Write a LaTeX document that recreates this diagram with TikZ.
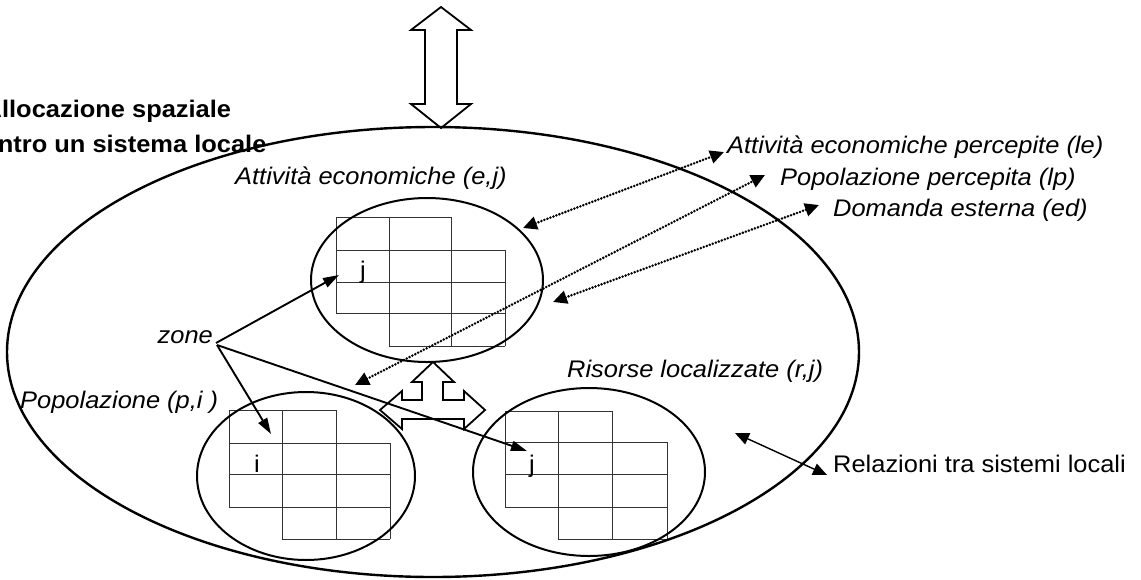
\documentclass[tikz,border=0pt]{standalone}
\usepackage{fontspec}
\setmainfont{Liberation Sans}[FakeStretch=1.06]
\usetikzlibrary{arrows.meta,shapes.geometric}
\newcommand\cellgrid[9]{%
  \draw[gridline] (#1,#5) -- (#3,#5);
  \draw[gridline] (#1,#6) -- (#4,#6);
  \draw[gridline] (#1,#7) -- (#4,#7);
  \draw[gridline] (#1,#8) -- (#4,#8);
  \draw[gridline] (#2,#9) -- (#4,#9);
  \draw[gridline] (#1,#5) -- (#1,#8);
  \draw[gridline] (#2,#5) -- (#2,#9);
  \draw[gridline] (#3,#5) -- (#3,#9);
  \draw[gridline] (#4,#6) -- (#4,#9);
}
\tikzset{
  gridline/.style={line width=1pt, black!80},
  bigell/.style={draw, ellipse, line width=2.4pt, inner sep=0pt},
  smallell/.style={draw, ellipse, line width=2pt, inner sep=0pt},
  blockarrow/.style={line width=1.8pt, line join=miter},
  zonearrow/.style={line width=1.9pt, -{Triangle[length=16pt,width=10pt]}},
  dotarrow/.style={line width=2.8pt, line cap=round, dash pattern=on 0pt off 3.2pt,
    {Triangle[length=14pt,width=13pt]}-{Triangle[length=14pt,width=13pt]}},
  relarrow/.style={line width=1.4pt, {Triangle[length=14pt,width=12pt]}-{Triangle[length=14pt,width=12pt]}},
  lbl/.style={inner sep=0pt, font=\fontsize{24}{28}\selectfont\itshape, anchor=base west},
  uplbl/.style={inner sep=0pt, font=\fontsize{24}{28}\selectfont, anchor=base},
  ttl/.style={inner sep=0pt, font=\fontsize{24}{28}\selectfont\bfseries, anchor=base west},
}
\begin{document}
\begin{tikzpicture}[x=1pt,y=-1pt]
\fill[white] (0,0) rectangle (1141,579);
\useasboundingbox (0,0) rectangle (1141,579);

% grids of zones
\cellgrid{336}{389}{451}{505}{217}{250}{282}{313}{346}
\cellgrid{229}{282}{336}{390}{410}{443}{474}{507}{539}
\cellgrid{505}{558}{612}{667}{411}{442}{474}{507}{539}

% ellipses
\node[bigell, minimum width=852pt, minimum height=450pt] (sys) at (433,352) {};
\node[smallell, minimum width=232pt, minimum height=164pt] (econ) at (427,280) {};
\node[smallell, minimum width=218pt, minimum height=168pt] (pop) at (306,476) {};
\node[smallell, minimum width=232pt, minimum height=168pt] (ris) at (589,472) {};

% top double block arrow
\draw[blockarrow] (441,7) -- (471,30) -- (457,30) -- (457,104) -- (471,104) -- (441,128)
  -- (411,104) -- (425,104) -- (425,30) -- (411,30) -- cycle;

% central three-way block arrow
\draw[blockarrow] (433,362) -- (454,382) -- (443,382) -- (443,400) -- (464,400) -- (464,391)
  -- (485,410) -- (464,429) -- (464,419) -- (402,419) -- (402,429) -- (380,410)
  -- (402,391) -- (402,400) -- (422,400) -- (422,382) -- (412,382) -- cycle;

% labels
\node[ttl] (t1) at (-16.5,117) {Allocazione spaziale};
\node[ttl] (t2) at (-16.5,152) {entro un sistema locale};
\node[lbl] (econlbl) at (235,184) {Attività economiche (e,j)};
\node[lbl] (le) at (727,153) {Attività economiche percepite (le)};
\node[lbl] (lp) at (780,185) {Popolazione percepita (lp)};
\node[lbl] (ed) at (833,216) {Domanda esterna (ed)};
\node[lbl] (rislbl) at (567,377) {Risorse localizzate (r,j)};
\node[lbl] (poplbl) at (20,408) {Popolazione (p,i )};
\node[lbl, anchor=base east] (zone) at (213,343) {zone};
\node[uplbl, anchor=base west] (rel) at (833,472) {Relazioni tra sistemi locali};
\node[uplbl] (jtop) at (363,278) {j};
\node[uplbl] (ipop) at (257,472) {i};
\node[uplbl] (jris) at (532,472) {j};

% arrows from "zone"
\coordinate (zs) at (216,343);
\coordinate (zt) at (217,345);
\coordinate (tipj1) at (339,275);
\coordinate (tipi) at (271,434);
\coordinate (tipj2) at (527,451);
\draw[zonearrow] (zs) -- (tipj1);
\draw[zonearrow] (zt) -- (tipi);
\draw[zonearrow] (zt) -- (tipj2);

% dotted relations
\coordinate (a1) at (523,228); \coordinate (a2) at (724,152);
\coordinate (b1) at (355,385); \coordinate (b2) at (765,175);
\coordinate (c1) at (553,302); \coordinate (c2) at (819,205);
\draw[dotarrow] (a1) -- (a2);
\draw[dotarrow] (b1) -- (b2);
\draw[dotarrow] (c1) -- (c2);

% relations between local systems
\coordinate (r1) at (735,433); \coordinate (r2) at (827,475);
\draw[relarrow] (r1) -- (r2);
\end{tikzpicture}
\end{document}
